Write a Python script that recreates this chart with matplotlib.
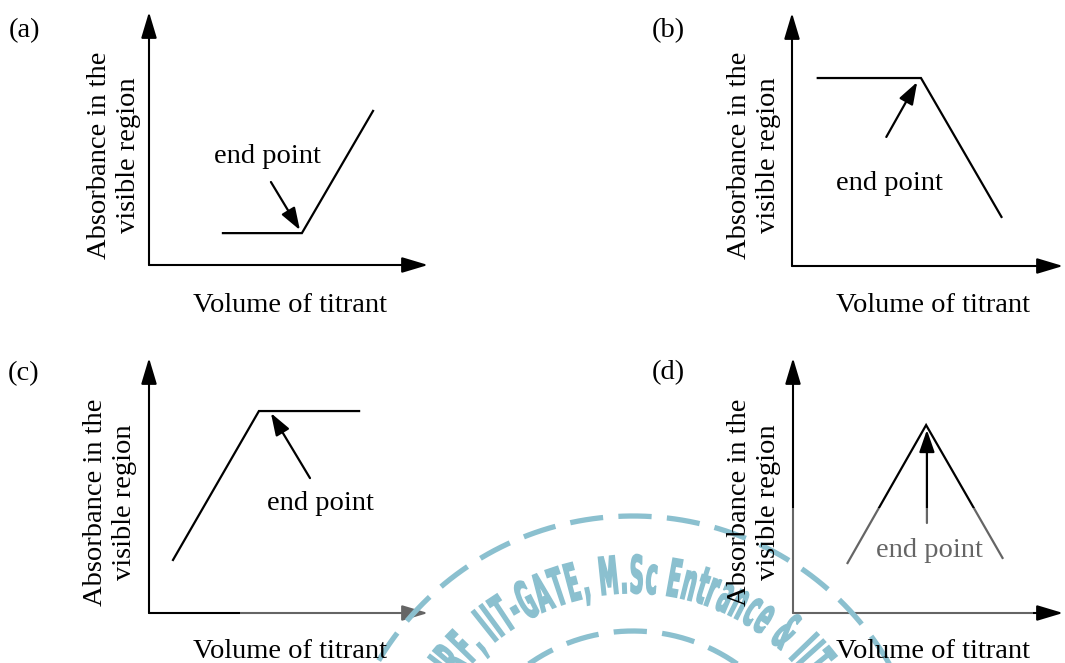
import numpy as np
import matplotlib
matplotlib.use('Agg')
import matplotlib.pyplot as plt
from matplotlib.textpath import TextPath, TextToPath
from matplotlib.patches import PathPatch, Rectangle
from matplotlib.font_manager import FontProperties
from matplotlib.patches import ArrowStyle
import matplotlib.transforms as mtrans

# ---------------- data ----------------
panel_labels = ["(a)", "(b)", "(c)", "(d)"]
x_label = "Volume of titrant"
y_label = "Absorbance in the\nvisible region"
annot_text = "end point"

# curves in axis units (each arrowed axis is 10 units long)
curve_a_x = [2.65, 5.48, 8.03]
curve_a_y = [1.26, 1.26, 6.09]
curve_b_x = [0.95, 4.76, 7.73]
curve_b_y = [7.43, 7.43, 1.94]
curve_c_x = [0.86, 3.94, 7.53]
curve_c_y = [2.08, 7.92, 7.92]
curve_d_x = [2.02, 4.93, 7.76]
curve_d_y = [1.96, 7.37, 2.16]

# end-point arrows: (tail, head)
arrow_a = [(4.37, 3.28), (5.41, 1.38)]
arrow_b = [(3.48, 5.10), (4.62, 7.27)]
arrow_c = [(5.77, 5.29), (4.37, 7.84)]
arrow_d = [(4.96, 3.53), (4.96, 7.18)]

# "end point" text anchor (centre, baseline) in axis units
label_a = (4.23, 4.03)
label_b = (3.59, 3.00)
label_c = (6.16, 4.04)
label_d = (5.07, 2.20)

wm_text = "JRF, IIT-GATE, M.Sc Entrance & IIT"

# ---------------- layout ----------------
W, H = 1065, 663
fig = plt.figure(figsize=(W / 100, H / 100), dpi=100)
SERIF = ['Liberation Serif', 'DejaVu Serif']
FS = 20.5


def fx(x):
    return x / W


def fy(y):
    return 1 - y / H


# pixel boxes: origin x, origin y, x-tip, y-tip
boxes = [(149, 265, 428, 12), (792, 266, 1063, 13),
         (149, 613, 428, 358), (793, 613, 1063, 358)]
curves = [(curve_a_x, curve_a_y), (curve_b_x, curve_b_y),
          (curve_c_x, curve_c_y), (curve_d_x, curve_d_y)]
arrows = [arrow_a, arrow_b, arrow_c, arrow_d]
labels = [label_a, label_b, label_c, label_d]
panel_pos = [(24, 31), (668, 31), (24, 374), (668, 373)]
xlab_pos = [(290, 312), (933, 312), (290, 658), (933, 658)]
ylab_pos = [(114, 155), (754, 155), (110, 502), (754, 502)]

axis_style = ArrowStyle('-|>', head_length=0.8, head_width=0.24)
ep_style = ArrowStyle('-|>', head_length=0.75, head_width=0.26)

for i in range(4):
    x0, y0, x1, y1 = boxes[i]
    ax = fig.add_axes([fx(x0), fy(y0), (x1 - x0) / W, (y0 - y1) / H])
    ax.set_xlim(0, 10)
    ax.set_ylim(0, 10)
    ax.axis('off')
    # axes arrows
    ax.annotate('', xy=(10, 0), xytext=(0, 0),
                arrowprops=dict(arrowstyle=axis_style, lw=1.5, color='black',
                                mutation_scale=20, shrinkA=0, shrinkB=0),
                annotation_clip=False)
    ax.annotate('', xy=(0, 10), xytext=(0, 0),
                arrowprops=dict(arrowstyle=axis_style, lw=1.5, color='black',
                                mutation_scale=20, shrinkA=0, shrinkB=0),
                annotation_clip=False)
    cx, cy = curves[i]
    ax.plot(cx, cy, color='black', lw=1.6, solid_joinstyle='miter', clip_on=False)
    (tx, ty), (hx, hy) = arrows[i]
    ax.annotate('', xy=(hx, hy), xytext=(tx, ty),
                arrowprops=dict(arrowstyle=ep_style, lw=1.6, color='black',
                                mutation_scale=18, shrinkA=0, shrinkB=0),
                annotation_clip=False)
    lx, ly = labels[i]
    ax.text(lx, ly, annot_text, ha='center', va='baseline', fontsize=FS,
            family=SERIF, color='black')

    px, py = panel_pos[i]
    fig.text(fx(px), fy(py), panel_labels[i], ha='center', va='center',
             fontsize=FS, family=SERIF)
    px, py = xlab_pos[i]
    fig.text(fx(px), fy(py), x_label, ha='center', va='baseline',
             fontsize=FS, family=SERIF)
    px, py = ylab_pos[i]
    fig.text(fx(px), fy(py), y_label, ha='center', va='center', rotation=90,
             multialignment='center', fontsize=FS, family=SERIF, linespacing=1.2)

# ---------------- watermark overlay ----------------
wm = fig.add_axes([0, 0, 1, 1], facecolor='none')
wm.set_xlim(0, W)
wm.set_ylim(0, H)
wm.axis('off')

# faded regions under the stamp
wm.add_patch(Rectangle((240, 0), 200, H - 590, facecolor='white', alpha=0.4,
                       edgecolor='none'))
wm.add_patch(Rectangle((705, 0), 328, H - 508, facecolor='white', alpha=0.4,
                       edgecolor='none'))

WM_COLOR = '#8bc0cf'
C = (633, H - 812)
t = np.linspace(0, np.pi, 500)
for r in (296, 181):
    wm.plot(C[0] + r * np.cos(t), C[1] + r * np.sin(t), color=WM_COLOR, lw=3.8,
            dashes=(6.3, 2.9), dash_capstyle='butt')

fp = FontProperties(family='DejaVu Sans', weight='bold')
fp100 = FontProperties(family='DejaVu Sans', weight='bold', size=100)
t2p = TextToPath()
em = 52.0
track = 0.05
R_mid = 238.0
R_base = R_mid - 0.73 * em / 2
theta0 = np.deg2rad(144)
span = np.deg2rad(107)

advs = []
for ch in wm_text:
    if ch == ' ':
        advs.append(0.40)
    else:
        w, h, d = t2p.get_text_width_height_descent(ch, fp100, ismath=False)
        advs.append(w / 100.0 + track)
total_em = sum(advs)
unit = R_mid * span / total_em        # px per em along the arc
sx = unit / em

s = 0.0
for ch, a in zip(wm_text, advs):
    adv = a * unit
    if ch != ' ':
        th = theta0 - (s + adv / 2) / R_mid
        path = TextPath((0, 0), ch, size=1, prop=fp)
        bb = path.get_extents()
        tr = (mtrans.Affine2D().translate(-(bb.x0 + bb.x1) / 2, 0)
              .scale(em * sx * 0.92, em).rotate(th - np.pi / 2)
              .translate(C[0] + R_base * np.cos(th), C[1] + R_base * np.sin(th)))
        wm.add_patch(PathPatch(path, transform=tr + wm.transData,
                               facecolor=WM_COLOR, edgecolor=WM_COLOR, lw=1.1))
    s += adv

fig.savefig('out.png', dpi=100)
